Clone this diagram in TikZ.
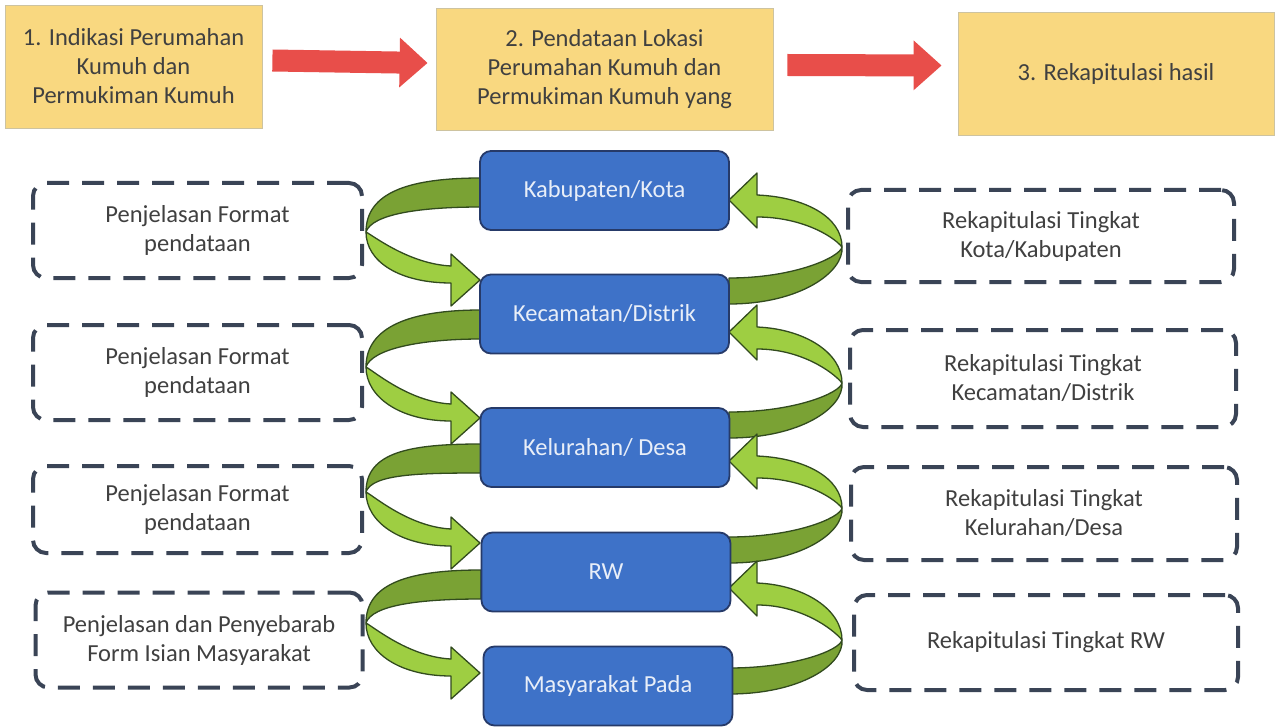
\documentclass[tikz,border=0pt]{standalone}
\usepackage{fontspec}
\setmainfont{Carlito}
\usetikzlibrary{calc,arrows.meta}
\definecolor{yel}{RGB}{249,216,128}
\definecolor{yelline}{RGB}{205,195,160}
\definecolor{redar}{RGB}{232,78,74}
\definecolor{bluef}{RGB}{62,114,200}
\definecolor{bluel}{RGB}{38,58,105}
\definecolor{btext}{RGB}{232,238,248}
\definecolor{lgreen}{RGB}{158,206,66}
\definecolor{dgreen}{RGB}{122,162,52}
\definecolor{gline}{RGB}{50,75,30}
\definecolor{dashc}{RGB}{58,68,86}
\definecolor{txt}{RGB}{64,64,64}
\newcommand\leftloop[3]{%
  \filldraw[dgr] (481,#1) .. controls (410,#1) and (366,{#2-40}) .. (366,#2)
     .. controls (372,{#2-18}) and (420,{#1+29}) .. (481,{#1+29}) -- cycle;}
\newcommand\leftloopfront[3]{%
  \filldraw[lgr] (366,#2) .. controls (366,{#2+30}) and (400,{#3+3}) .. (451,{#3+3})
     -- (451,{#3+26}) -- (480,#3) -- (451,{#3-26}) -- (451,{#3-14})
     .. controls (410,{#3-16}) and (375,{#2+5}) .. (366,#2) -- cycle;}
\newcommand\rightloop[3]{%
  \filldraw[dgr] (842,#2) .. controls (840,{#2+10}) and (795,#3) .. (729,#3)
     -- (729,{#3+26}) .. controls (800,{#3+26}) and (844,{#2+25}) .. (842,#2) -- cycle;}
\newcommand\rightloopfront[3]{%
  \filldraw[lgr] (757,{#1-5}) .. controls (805,{#1-3}) and (842,{#2-30}) .. (842,#2)
     .. controls (832,{#2-12}) and (800,{#1+17}) .. (757,{#1+17})
     -- (757,{#1+28}) -- (729,#1) -- (757,{#1-27}) -- cycle;}
\begin{document}
\begin{tikzpicture}[x=1pt,y=-1pt,
  ybox/.style={fill=yel,draw=yelline,line width=0.8pt,align=center,text=txt,
    font=\fontsize{24.5}{29}\selectfont,inner sep=0pt},
  bbox/.style={fill=bluef,draw=bluel,line width=1.8pt,rounded corners=11pt,
    minimum width=249pt,minimum height=79pt,text=btext,
    font=\fontsize{24.5}{29}\selectfont,inner sep=0pt},
  dbox/.style={draw=dashc,line width=4pt,rounded corners=13pt,dash pattern=on 22pt off 13pt,
    align=center,text=txt,font=\fontsize{24.5}{29}\selectfont,inner sep=0pt},
  redarrow/.style={draw=redar,line width=22pt,-{Triangle[length=28pt,width=48pt]}},
  dgr/.style={fill=dgreen,draw=gline,line width=1.3pt,line join=round},
  lgr/.style={fill=lgreen,draw=gline,line width=1.3pt,line join=round}]
\useasboundingbox (0,0) rectangle (1276,727);
\fill[white] (0,0) rectangle (1276,727);
% top row
\node[ybox,minimum width=257pt,minimum height=123pt] (y1) at (133.5,66.5)
  {1. Indikasi Perumahan\\Kumuh dan\\Permukiman Kumuh};
\node[ybox,minimum width=337pt,minimum height=122pt] (y2) at (604.5,69)
  {2. Pendataan Lokasi\\Perumahan Kumuh dan\\Permukiman Kumuh yang};
\node[ybox,minimum width=316pt,minimum height=123pt] (y3) at (1116,73.5)
  {3. Rekapitulasi hasil};
\draw[redarrow] ($(y1.east)+(10,-6)$) -- ($(y2.west)+(-8,-6)$);
\draw[redarrow] ($(y2.east)+(14,-4)$) -- ($(y3.west)+(-16,-8)$);
% green loops (back parts)
\leftloop{178}{232}{280}
\leftloop{310}{367}{418}
\leftloop{444}{492}{543}
\leftloop{570}{623}{673}
\rightloop{200}{247}{278}
\rightloop{332}{383}{412}
\rightloop{461}{508}{537}
\rightloop{588}{640}{668}
% front parts
\leftloopfront{178}{232}{280}
\leftloopfront{310}{367}{418}
\leftloopfront{444}{492}{543}
\leftloopfront{570}{623}{673}
\rightloopfront{200}{247}{278}
\rightloopfront{332}{383}{412}
\rightloopfront{461}{508}{537}
\rightloopfront{588}{640}{668}
% blue boxes
\node[bbox] (kab) at (604.5,190.5) {Kabupaten/Kota};
\node[bbox] (kec) at (604.5,314) {Kecamatan/Distrik};
\node[bbox] (kel) at (605,447.5) {Kelurahan/ Desa};
\node[bbox] (rw) at (606,572) {RW};
\node[bbox] (mas) at (608,686) {Masyarakat Pada};
% left dashed boxes
\node[dbox,minimum width=329pt,minimum height=95pt] (l1) at (197.5,230.5)
  {Penjelasan Format\\pendataan};
\node[dbox,minimum width=329pt,minimum height=95pt] (l2) at (197.5,372.5)
  {Penjelasan Format\\pendataan};
\node[dbox,minimum width=329pt,minimum height=87pt] (l3) at (197.5,509.5)
  {Penjelasan Format\\pendataan};
\node[dbox,minimum width=327pt,minimum height=95pt] (l4) at (199,640)
  {Penjelasan dan Penyebarab\\Form Isian Masyarakat};
% right dashed boxes
\node[dbox,minimum width=386pt,minimum height=92pt] (r1) at (1041,236)
  {Rekapitulasi Tingkat\\Kota/Kabupaten};
\node[dbox,minimum width=386pt,minimum height=97pt] (r2) at (1043,378.5)
  {Rekapitulasi Tingkat\\Kecamatan/Distrik};
\node[dbox,minimum width=386pt,minimum height=93pt] (r3) at (1044,513.5)
  {Rekapitulasi Tingkat\\Kelurahan/Desa};
\node[dbox,minimum width=384pt,minimum height=95pt] (r4) at (1046,642.5)
  {Rekapitulasi Tingkat RW};
\end{tikzpicture}
\end{document}
